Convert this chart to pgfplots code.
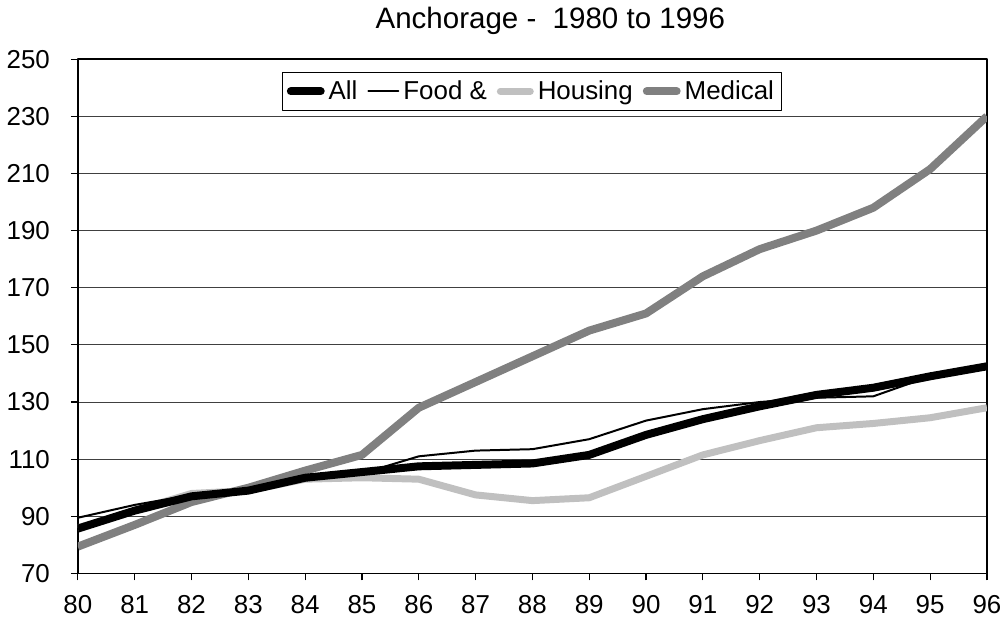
\documentclass[border=0pt]{standalone}
\usepackage{pgfplots}
\pgfplotsset{compat=1.18}
\usepackage{fontspec}
\setmainfont{Liberation Sans}
\definecolor{housing}{RGB}{192,192,192}
\definecolor{medical}{RGB}{128,128,128}

\begin{document}
\begin{tikzpicture}
\begin{axis}[
  scale only axis,
  width=456pt,height=258pt,
  xmin=80,xmax=96,ymin=70,ymax=250,
  xtick={80,...,96},ytick={70,90,...,250},
  tick pos=left,
  tick align=outside,
  tick style={black,line width=0.6pt},
  major tick length=3.5pt,
  axis line style={black,line width=0.7pt},
  ymajorgrids,
  grid style={black!75,line width=0.5pt},
  ticklabel style={font=\fontsize{13}{15}\selectfont},
  xticklabel style={yshift=-4pt},
  yticklabel style={xshift=-7pt},
  /pgf/number format/assume math mode=true,
  title={Anchorage -\ \ 1980 to 1996},
  title style={font=\fontsize{14.8}{17}\selectfont,yshift=3pt,xshift=9pt},
  legend columns=4,
  legend style={at={(0.5,0.975)},anchor=north,draw=black,line width=0.5pt,
    font=\fontsize{13}{15}\selectfont,inner sep=2pt,
    /tikz/every even column/.append style={column sep=3pt}},
  legend cell align=left,
  legend image code/.code={\draw[#1,line cap=round] (0pt,0pt) -- (15pt,0pt);},
  line join=round,
]
% legend entries in reference order
\addlegendimage{black,line width=4pt}
\addlegendentry{All}
\addlegendimage{black,line width=1pt}
\addlegendentry{Food \&}
\addlegendimage{housing,line width=3.5pt}
\addlegendentry{Housing}
\addlegendimage{medical,line width=4pt}
\addlegendentry{Medical}

\addplot[medical,line width=4pt,forget plot] coordinates {
  (80,79.4)(81,87)(82,95)(83,100)(84,106)(85,111.5)(86,128)(87,137)(88,146)
  (89,155)(90,161)(91,174)(92,183.5)(93,190)(94,198)(95,211.5)(96,230)};
\addplot[housing,line width=3.5pt,forget plot] coordinates {
  (80,86)(81,92)(82,98)(83,99)(84,103)(85,103.5)(86,103)(87,97.5)(88,95.5)
  (89,96.5)(90,104)(91,111.5)(92,116.5)(93,121)(94,122.5)(95,124.5)(96,128)};
\addplot[black,line width=1pt,forget plot] coordinates {
  (80,89.5)(81,94)(82,97.5)(83,99.5)(84,103)(85,105)(86,111)(87,113)(88,113.5)
  (89,117)(90,123.5)(91,127.5)(92,130)(93,131.5)(94,132)(95,139)(96,142.5)};
\addplot[black,line width=4pt,forget plot] coordinates {
  (80,85.7)(81,92)(82,97)(83,99)(84,103.5)(85,105.5)(86,107.5)(87,108)(88,108.5)
  (89,111.5)(90,118.5)(91,124)(92,128.5)(93,132.5)(94,135)(95,139)(96,142.5)};
\end{axis}
\end{tikzpicture}
\end{document}
